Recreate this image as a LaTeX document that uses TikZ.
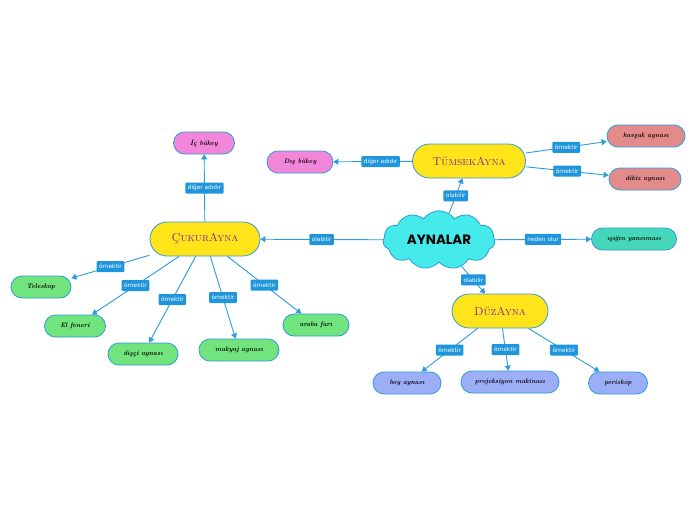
\documentclass[tikz,border=0pt]{standalone}
\usepackage{fontspec}
\newfontfamily\lblfont{DejaVu Sans}
\newfontfamily\heavyfont{Poppins}
\usepackage{xcolor}
\usepackage{tikz}
\usetikzlibrary{shapes.symbols}
\usetikzlibrary{arrows.meta}

\definecolor{linkblue}{HTML}{2C9CDD}
\definecolor{lblblue}{HTML}{1F95DC}
\definecolor{mainyellow}{HTML}{FFE419}
\definecolor{cloudcyan}{HTML}{45EBEB}
\definecolor{pinkleaf}{HTML}{F287DA}
\definecolor{roseleaf}{HTML}{E38B8B}
\definecolor{greenleaf}{HTML}{72E47D}
\definecolor{tealleaf}{HTML}{46D6BA}
\definecolor{lilacleaf}{HTML}{9BAEF6}
\definecolor{penpurple}{HTML}{7A2D9C}

\begin{document}
\begin{tikzpicture}[x=1pt, y=-1pt,
    ana/.style={draw=linkblue, line width=0.8pt, fill=mainyellow, rounded corners=17pt,
        minimum width=110pt, minimum height=34pt, text=penpurple,
        font=\fontsize{11.5}{13}\selectfont\scshape},
    yaprak/.style={draw=linkblue, line width=0.8pt, rounded corners=11pt, minimum height=22pt,
        inner xsep=0pt, font=\fontsize{6.6}{7.5}\selectfont\bfseries\itshape},
    etiket/.style={fill=lblblue, text=white, rounded corners=1pt, inner xsep=2.5pt, inner ysep=0pt,
        minimum height=11pt, font=\lblfont\fontsize{5.8}{7}\selectfont},
    bag/.style={draw=linkblue, line width=0.9pt, -{Triangle[length=5pt,width=6pt]}}]
        \fill[white] (0,0) rectangle (696,520);
        \useasboundingbox (0,0) rectangle (696,520);

        % Merkez
        \node[cloud, cloud puffs=11, cloud puff arc=110, aspect=2.2, draw=linkblue, line width=0.8pt,
            fill=cloudcyan, minimum width=112pt, minimum height=50pt,
            font=\heavyfont\bfseries\fontsize{13.5}{15}\selectfont] (aynalar) at (439,240) {AYNALAR};

        % Ana dallar
        \node[ana] (cukur) at (205,239) {ÇukurAyna};
        \node[ana, minimum width=113pt] (tumsek) at (469,161) {TümsekAyna};
        \node[ana, minimum width=96pt] (duz) at (500,311) {DüzAyna};

        % Yapraklar
        \node[yaprak, fill=pinkleaf, minimum width=61pt] (icbukey) at (204,143) {İç bükey};
        \node[yaprak, fill=pinkleaf, minimum width=66pt] (disbukey) at (300,162) {Dış bükey};
        \node[yaprak, fill=roseleaf, minimum width=78pt] (kavsak) at (646,136) {kavşak aynası};
        \node[yaprak, fill=roseleaf, minimum width=72pt] (dikiz) at (645,179) {dikiz aynası};
        \node[yaprak, fill=tealleaf, minimum width=85pt] (isik) at (634,239) {ışığın yansıması};
        \node[yaprak, fill=greenleaf, minimum width=60pt] (teleskop) at (41,287) {Teleskop};
        \node[yaprak, fill=greenleaf, minimum width=61pt] (fener) at (75,326) {El feneri};
        \node[yaprak, fill=greenleaf, minimum width=70pt] (disci) at (143,354) {dişçi aynası};
        \node[yaprak, fill=greenleaf, minimum width=80pt] (makyaj) at (239,350) {makyaj aynası};
        \node[yaprak, fill=greenleaf, minimum width=66pt] (araba) at (316,325) {araba farı};
        \node[yaprak, fill=lilacleaf, minimum width=68pt] (boy) at (407,383) {boy aynası};
        \node[yaprak, fill=lilacleaf, minimum width=98pt] (projeksiyon) at (510,382) {projeksiyon makinası};
        \node[yaprak, fill=lilacleaf, minimum width=59pt] (periskop) at (618,383) {periskop};

        % Baglar
        \draw[bag] (aynalar) -- node[etiket] (l1) {olabilir} (cukur);
        \draw[bag] (aynalar) -- node[etiket] (l2) {olabilir} (tumsek);
        \draw[bag] (aynalar) -- node[etiket] (l3) {olabilir} (duz);
        \draw[bag] (aynalar) -- node[etiket] (l4) {neden olur} (isik);
        \draw[bag] (cukur) -- node[etiket] (l5) {diğer adıdır} (icbukey);
        \draw[bag] (tumsek) -- node[etiket, pos=.4] (l6) {diğer adıdır} (disbukey);
        \draw[bag] (tumsek) -- node[etiket] (l7) {örnektir} (kavsak);
        \draw[bag] (tumsek) -- node[etiket] (l8) {örnektir} (dikiz);
        \draw[bag] (cukur) -- node[etiket] (l9) {örnektir} (teleskop);
        \draw[bag] (cukur) -- node[etiket] (l10) {örnektir} (fener);
        \draw[bag] (cukur) -- node[etiket] (l11) {örnektir} (disci);
        \draw[bag] (cukur) -- node[etiket] (l12) {örnektir} (makyaj);
        \draw[bag] (cukur) -- node[etiket] (l13) {örnektir} (araba);
        \draw[bag] (duz) -- node[etiket] (l14) {örnektir} (boy);
        \draw[bag] (duz) -- node[etiket] (l15) {örnektir} (projeksiyon);
        \draw[bag] (duz) -- node[etiket] (l16) {örnektir} (periskop);
    \end{tikzpicture}
\end{document}
